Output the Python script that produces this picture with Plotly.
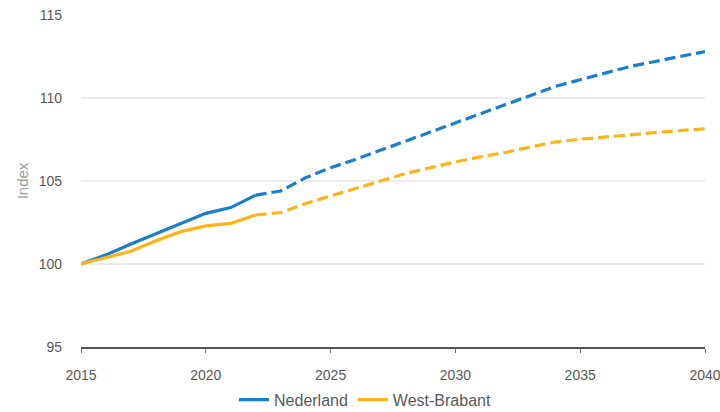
import plotly.graph_objects as go

years = list(range(2015, 2041))
nederland = [100.0, 100.55, 101.2, 101.8, 102.4, 103.05, 103.4, 104.15, 104.4,
             105.2, 105.8, 106.3, 106.85, 107.4, 107.95, 108.55, 109.1, 109.65,
             110.2, 110.7, 111.1, 111.5, 111.9, 112.2, 112.5, 112.8]
west_brabant = [100.0, 100.4, 100.77, 101.4, 101.95, 102.3, 102.45, 102.95, 103.1,
                103.65, 104.1, 104.6, 105.05, 105.45, 105.8, 106.15, 106.45, 106.72,
                107.05, 107.35, 107.52, 107.67, 107.78, 107.92, 108.02, 108.15]
last_actual = 2022
series_names = ["Nederland", "West-Brabant"]
colors = ["#1a7fcc", "#fbb41c"]

fig = go.Figure()
split = years.index(last_actual)
for name, vals, col in zip(series_names, [nederland, west_brabant], colors):
    fig.add_trace(go.Scatter(x=years[:split + 1], y=vals[:split + 1], mode="lines",
                             name=name, legendgroup=name,
                             line=dict(color=col, width=3.2)))
    fig.add_trace(go.Scatter(x=years[split:], y=vals[split:], mode="lines",
                             name=name, legendgroup=name, showlegend=False,
                             line=dict(color=col, width=3.2, dash="11px,5px")))

font = "Liberation Sans, Arial, sans-serif"
fig.update_layout(
    width=720, height=412,
    margin=dict(l=81, r=15, t=15, b=65, autoexpand=False),
    paper_bgcolor="white", plot_bgcolor="white",
    font=dict(family=font, size=12, color="#595959"),
    showlegend=True,
    legend=dict(orientation="h", xref="container", x=0.507, xanchor="center",
                yref="container", y=0.03, yanchor="middle",
                font=dict(size=16, color="#595959"), entrywidth=0,
                itemwidth=30),
    xaxis=dict(range=[2015, 2040], tickvals=list(range(2015, 2041, 5)),
               showgrid=False, showline=True, linecolor="#555555", linewidth=1.5,
               ticks="outside", ticklen=4, tickcolor="#777777", tickwidth=1,
               ticklabelstandoff=10, zeroline=False, automargin=False,
               ticklabeloverflow="allow",
               tickfont=dict(size=14, color="#595959")),
    yaxis=dict(range=[95, 115], tickvals=[95, 100, 105, 110, 115],
               showgrid=True, gridcolor="#ececec", gridwidth=1.5,
               zeroline=False, showline=False, ticks="", automargin=False,
               ticklabelstandoff=18,
               tickfont=dict(size=14, color="#595959"),
               title=dict(text="Index", font=dict(size=15, color="#9a9a9a"),
                          standoff=6)),
)
fig.write_html("out.html")
